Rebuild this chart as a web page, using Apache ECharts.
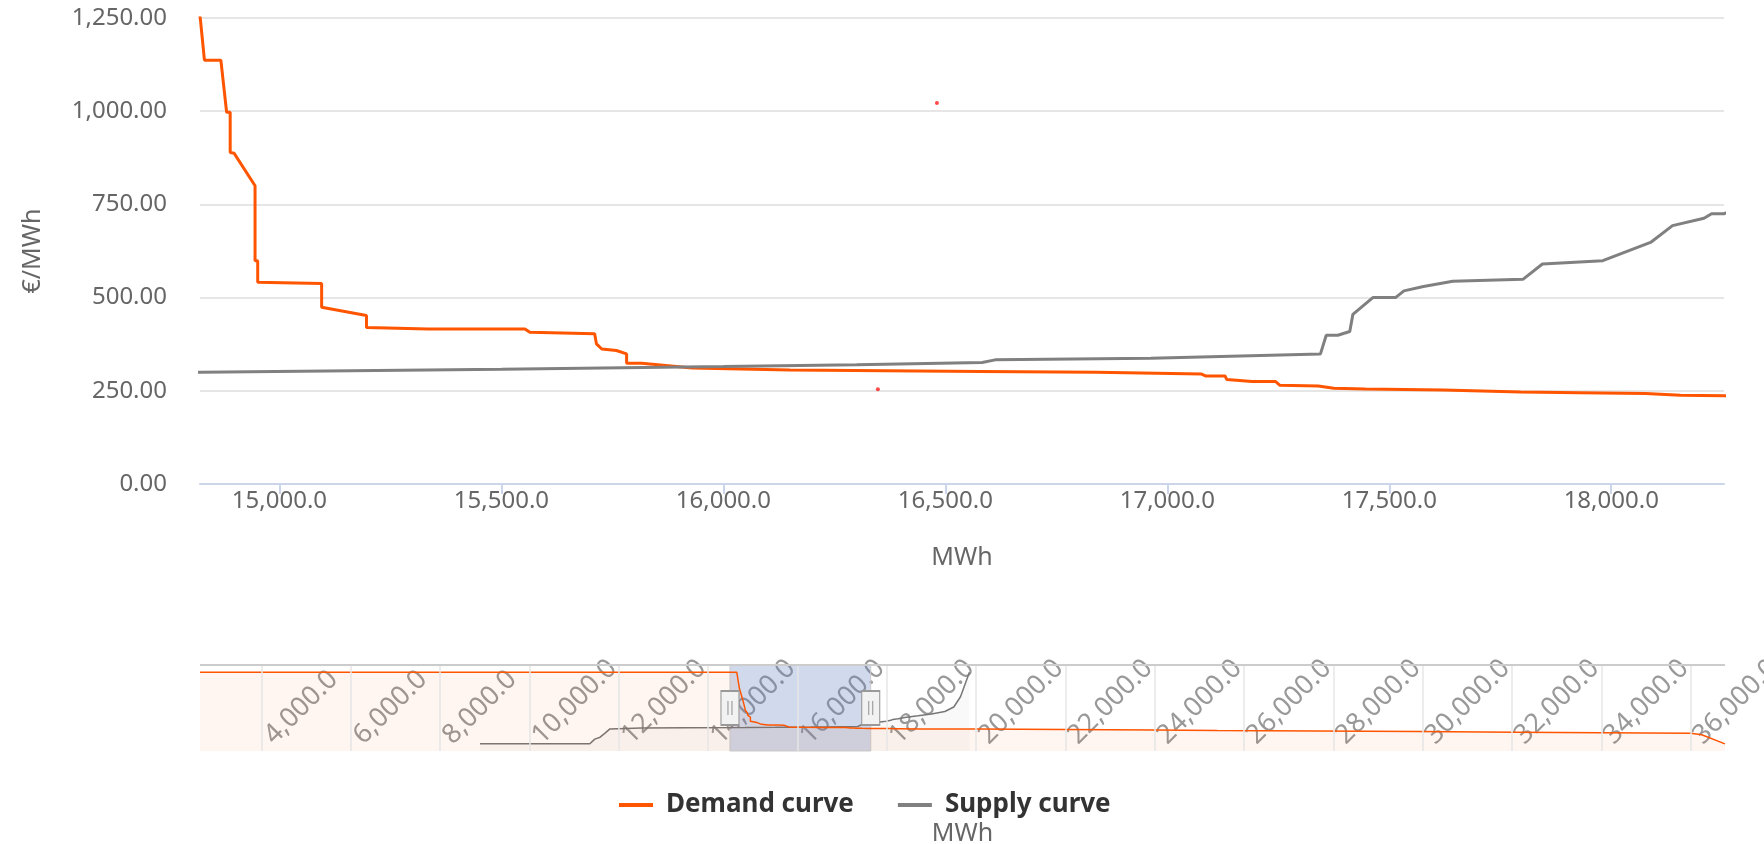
<!DOCTYPE html>
<html><head><meta charset="utf-8">
<script src="https://cdn.jsdelivr.net/npm/echarts@6/dist/echarts.min.js"></script>
<style>html,body{margin:0;padding:0;background:#fff}#c{width:1764px;height:844px}</style>
</head><body><div id="c"></div>
<script>
// ---- data ----
const demandQty = [2620, 14640, 14700, 14780, 14822, 14831, 14868, 14881, 14889, 14889, 14898, 14945, 14945, 14951, 14951, 15095, 15095, 15196, 15196, 15335, 15553, 15564, 15710, 15714, 15726, 15759, 15782, 15782, 15816, 15819, 15930, 16150, 16580, 16840, 17077, 17086, 17130, 17134, 17191, 17244, 17253, 17340, 17375, 17446, 17621, 17796, 17928, 18077, 18156, 18254, 18800, 20000, 22000, 24000, 25400, 27600, 29900, 32100, 34000, 36000, 36250, 36770];
const demandPrice = [3000, 3000, 2200, 1600, 1245, 1137, 1137, 997, 997, 889, 887, 800, 599, 599, 541, 538, 474, 452, 420, 416, 416, 407, 403, 376, 362, 358, 349, 324, 324, 320, 311, 306, 302, 300, 295, 290, 290, 280, 275, 275, 265, 263, 257, 255, 252, 247, 245, 243, 238, 237, 230, 222, 205, 175, 150, 130, 100, 70, 45, 20, -60, -500];
const supplyQty = [8890, 11350, 11460, 11580, 11690, 11800, 12500, 13500, 14821, 15500, 16000, 16300, 16583, 16612, 16963, 17345, 17358, 17384, 17411, 17418, 17463, 17514, 17533, 17577, 17643, 17801, 17845, 17981, 18090, 18138, 18209, 18226, 18254, 18400, 18700, 19000, 19300, 19500, 19650, 19750, 19850];
const supplyPrice = [-500, -500, -270, -175, 20, 230, 270, 290, 300, 308, 315, 320, 326, 333, 337, 349, 399, 399, 409, 455, 500, 500, 518, 530, 544, 549, 590, 599, 649, 693, 713, 725, 725, 790, 870, 960, 1080, 1300, 1800, 2400, 3000];
const pointQty = [16481, 16348];
const pointPrice = [1022, 254];
const priceRange = [0, 1250];
const priceStep = 250;
const qtyTicks = [15000, 15500, 16000, 16500, 17000, 17500, 18000];
const viewRange = [14821, 18254];
const navTicks = [4000, 6000, 8000, 10000, 12000, 14000, 16000, 18000, 20000, 22000, 24000, 26000, 28000, 30000, 32000, 34000, 36000];
const navWindow = [14488, 17640];
const navPriceRange = [-850, 3350];
const seriesNames = ['Demand curve', 'Supply curve'];

// ---- styles ----
const DEMAND = '#ff5500', SUPPLY = '#808080';
const FONT = 'Noto Sans';
const zip = (a, b) => a.map((v, i) => [v, b[i]]);
const fmt = (v, d) => Number(v).toLocaleString('en-US', {minimumFractionDigits: d, maximumFractionDigits: d});

const chart = echarts.init(document.getElementById('c'), null, {renderer: 'canvas'});
const handleY = (navPriceRange[0] + navPriceRange[1]) / 2;
const handlePath = 'path://M0,0H18V34H0Z M7,10V24 M11,10V24';

chart.setOption({
  animation: false,
  backgroundColor: '#ffffff',
  textStyle: {fontFamily: FONT},
  legend: {
    data: seriesNames, left: 614, top: 787, icon: 'rect', itemWidth: 34, itemHeight: 4, itemGap: 44,
    textStyle: {fontSize: 26, fontWeight: 'bold', color: '#333333', fontFamily: FONT, padding: [0, 0, 0, 8]}
  },
  grid: [
    {left: 200, width: 1524, top: 18, height: 466, outerBoundsMode: 'none', containLabel: false},
    {left: 200, width: 1525, top: 665, height: 86, outerBoundsMode: 'none', containLabel: false}
  ],
  xAxis: [{
    type: 'value', gridIndex: 0, min: viewRange[0], max: viewRange[1],
    axisLine: {show: true, lineStyle: {color: '#ccd6eb', width: 2}},
    axisTick: {show: true, customValues: qtyTicks, length: 10, lineStyle: {color: '#ccd6eb', width: 2}},
    axisLabel: {customValues: qtyTicks, formatter: v => fmt(v, 1), color: '#666666', fontSize: 24, margin: 5, fontFamily: FONT},
    splitLine: {show: false},
    name: 'MWh', nameLocation: 'middle', nameGap: 61,
    nameTextStyle: {color: '#666666', fontSize: 25, fontFamily: FONT}
  }, {
    type: 'value', gridIndex: 1, min: demandQty[0], max: demandQty[demandQty.length - 1],
    axisLine: {show: false}, axisTick: {show: false}, splitLine: {show: false},
    axisLabel: {customValues: navTicks, inside: true, rotate: 45, formatter: v => fmt(v, 1), color: '#999999', fontSize: 27, margin: 4, padding: [0, 0, 0, 10], fontFamily: FONT},
    name: 'MWh', nameLocation: 'middle', nameGap: 70,
    nameTextStyle: {color: '#666666', fontSize: 25, fontFamily: FONT}
  }],
  yAxis: [{
    type: 'value', gridIndex: 0, min: priceRange[0], max: priceRange[1], interval: priceStep,
    axisLine: {show: false}, axisTick: {show: false},
    axisLabel: {formatter: v => fmt(v, 2), color: '#666666', fontSize: 24, margin: 33, fontFamily: FONT},
    splitLine: {lineStyle: {color: '#e6e6e6', width: 2}},
    name: '€/MWh', nameLocation: 'middle', nameRotate: 90, nameGap: 155,
    nameTextStyle: {color: '#666666', fontSize: 25, fontFamily: FONT}
  }, {
    type: 'value', gridIndex: 1, min: navPriceRange[0], max: navPriceRange[1], show: false
  }],
  series: [{
    name: seriesNames[0], type: 'line', xAxisIndex: 0, yAxisIndex: 0, data: zip(demandQty, demandPrice),
    showSymbol: false, symbol: 'none', clip: true, lineStyle: {color: DEMAND, width: 3}, itemStyle: {color: DEMAND}, z: 3
  }, {
    name: seriesNames[1], type: 'line', xAxisIndex: 0, yAxisIndex: 0, data: zip(supplyQty, supplyPrice),
    showSymbol: false, symbol: 'none', clip: true, lineStyle: {color: SUPPLY, width: 3}, itemStyle: {color: SUPPLY}, z: 4
  }, {
    name: 'points', type: 'scatter', xAxisIndex: 0, yAxisIndex: 0, data: zip(pointQty, pointPrice),
    symbolSize: 4, itemStyle: {color: '#ff1a1a'}, z: 5
  }, {
    name: seriesNames[0], type: 'line', xAxisIndex: 1, yAxisIndex: 1, data: zip(demandQty, demandPrice),
    showSymbol: false, symbol: 'none', lineStyle: {color: DEMAND, width: 1.5}, itemStyle: {color: DEMAND},
    areaStyle: {color: DEMAND, opacity: 0.05, origin: 'start'}, z: 3,
    markArea: {silent: true, itemStyle: {color: 'rgba(102,133,194,0.3)', borderColor: '#cccccc', borderWidth: 1},
      data: [[{xAxis: navWindow[0]}, {xAxis: navWindow[1]}]]},
    markPoint: {silent: true, symbol: handlePath, symbolSize: [18, 34], symbolKeepAspect: false,
      itemStyle: {color: '#f2f2f2', borderColor: '#999999', borderWidth: 1.5}, label: {show: false}, z: 10,
      data: navWindow.map(v => ({coord: [v, handleY]}))}
  }, {
    name: seriesNames[1], type: 'line', xAxisIndex: 1, yAxisIndex: 1, data: zip(supplyQty, supplyPrice),
    showSymbol: false, symbol: 'none', lineStyle: {color: '#777777', width: 1.5}, itemStyle: {color: SUPPLY},
    areaStyle: {color: SUPPLY, opacity: 0.05, origin: 'start'}, z: 2,
    markLine: {silent: true, symbol: 'none', label: {show: false},
      data: navTicks.map(v => ({xAxis: v, lineStyle: {color: '#e6e6e6', width: 1.5, type: 'solid'}}))
        .concat([{yAxis: navPriceRange[1], lineStyle: {color: '#cccccc', width: 2, type: 'solid'}}])}
  }]
});
</script></body></html>
